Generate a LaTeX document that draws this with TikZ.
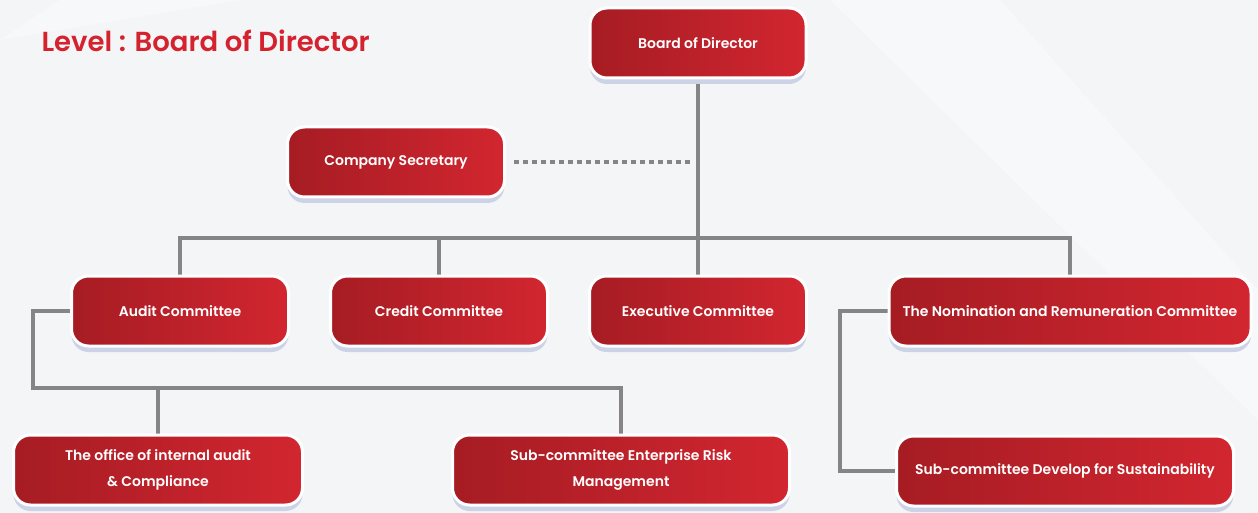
\documentclass[tikz,border=0pt]{standalone}
\usepackage{fontspec}
\setmainfont{Poppins}
\newfontfamily\boxfont{Poppins SemiBold}
\usetikzlibrary{shadows}
\pgfdeclarelayer{bglayer}
\pgfdeclarelayer{linelayer}
\pgfsetlayers{bglayer,linelayer,main}
\definecolor{bg}{HTML}{F4F5F6}
\definecolor{redl}{HTML}{A61C23}
\definecolor{redr}{HTML}{D22630}
\definecolor{titlered}{HTML}{D4222E}
\definecolor{linegray}{HTML}{858585}
\definecolor{shadowc}{HTML}{CDD3E6}
\tikzset{
  x=1pt, y=-1pt,
  orgbox/.style={rounded corners=17pt, minimum height=70pt, text=white,
    font=\boxfont\fontsize{14}{26}\selectfont, align=center, inner sep=0pt,
    left color=redl, right color=redr, draw=white, line width=3pt,
    drop shadow={shadow xshift=0pt, shadow yshift=-6pt, fill=shadowc, opacity=1}},
  conn/.style={draw=linegray, line width=3.5pt},
  dotconn/.style={draw=linegray, line width=3.5pt, dash pattern=on 5pt off 4pt}
}
\begin{document}
\begin{tikzpicture}
\begin{pgfonlayer}{bglayer}
\fill[bg] (0,0) rectangle (1258,513);
\fill[white, opacity=0.35] (830,0) -- (1000,0) -- (1258,290) -- (1258,420) -- cycle;
\fill[white, opacity=0.35] (0,40) -- (240,0) -- (60,0) -- cycle;
\end{pgfonlayer}
\useasboundingbox (0,0) rectangle (1258,513);

\node[anchor=west, text=titlered, font=\boxfont\fontsize{27.5}{30}\selectfont] (title) at (38,41) {Level : Board of Director};

\coordinate (hl) at (180,238);
\coordinate (hr) at (1070,238);
\coordinate (al) at (33,388);
\coordinate (ar) at (621,388);
\coordinate (dsend) at (692,162);
\coordinate (nl) at (840,311);

\node[orgbox, minimum width=216pt] (board) at (698,43) {Board of Director};
\node[orgbox, minimum width=217pt] (sec) at (396,162) {Company Secretary};
\node[orgbox, minimum width=217pt] (audit) at (180,311) {Audit Committee};
\node[orgbox, minimum width=217pt] (credit) at (439,311) {Credit Committee};
\node[orgbox, minimum width=217pt] (exec) at (698,311) {Executive Committee};
\node[orgbox, minimum width=362pt] (nom) at (1070,311) {The Nomination and Remuneration Committee};
\node[orgbox, minimum width=289pt] (office) at (158,470) {The office of internal audit\\ \& Compliance};
\node[orgbox, minimum width=337pt] (erm) at (621,470) {Sub-committee Enterprise Risk\\ Management};
\node[orgbox, minimum width=337pt] (dev) at (1065,471) {Sub-committee Develop for Sustainability};

\begin{pgfonlayer}{linelayer}
\draw[conn] (board.south) -- (exec.north);
\draw[conn] (audit.north) -- (hl) -- (hr) -- (nom.north);
\draw[conn] (credit.north) -- (credit.north |- hl);
\draw[dotconn] ([xshift=8pt]sec.east) -- (dsend);
\draw[conn] (audit.west) -- (audit.west -| al) -- (al) -- (ar) -- (erm.north);
\draw[conn] (office.north) -- (office.north |- al);
\draw[conn] (nom.west) -- (nl) |- (dev.west);
\end{pgfonlayer}
\end{tikzpicture}
\end{document}
